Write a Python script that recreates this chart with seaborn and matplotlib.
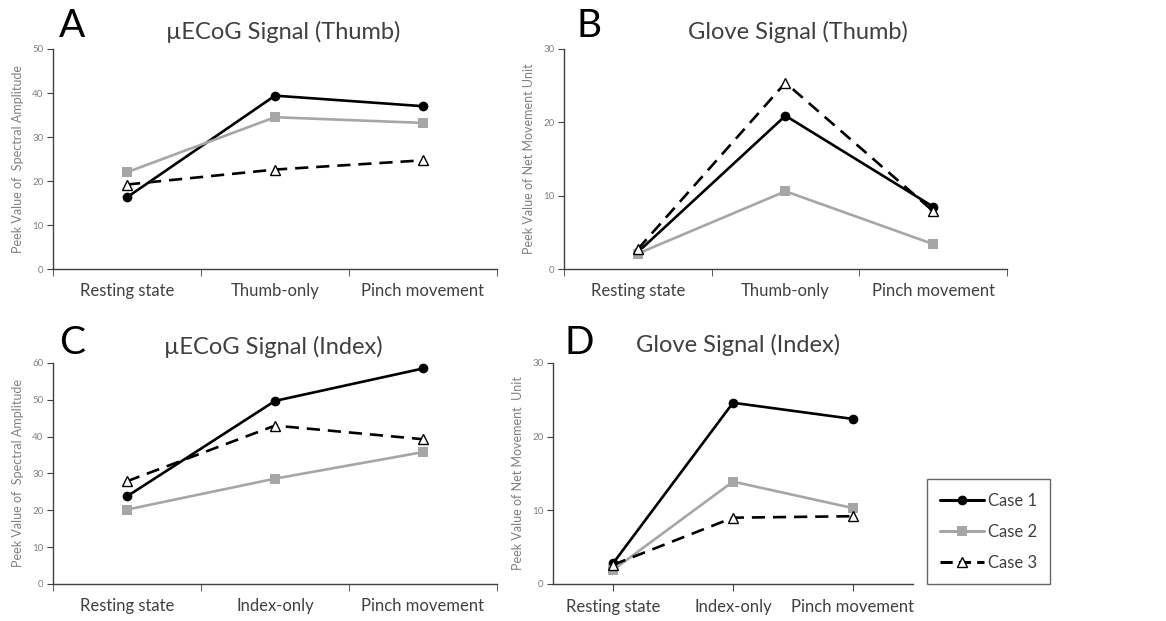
import pandas as pd
import numpy as np
import seaborn as sns
import matplotlib.pyplot as plt
from matplotlib.lines import Line2D
from matplotlib.ticker import FixedLocator

cases = ["Case 1", "Case 2", "Case 3"]

thumb_cats = ["Resting state", "Thumb-only", "Pinch movement"]
index_cats = ["Resting state", "Index-only", "Pinch movement"]

ecog_thumb_case1 = [16.3, 39.4, 37.0]
ecog_thumb_case2 = [22.0, 34.5, 33.2]
ecog_thumb_case3 = [19.2, 22.6, 24.7]

glove_thumb_case1 = [2.3, 20.9, 8.5]
glove_thumb_case2 = [2.1, 10.6, 3.4]
glove_thumb_case3 = [2.7, 25.4, 7.9]

ecog_index_case1 = [23.8, 49.7, 58.5]
ecog_index_case2 = [20.2, 28.6, 35.8]
ecog_index_case3 = [27.9, 43.0, 39.3]

glove_index_case1 = [2.8, 24.6, 22.4]
glove_index_case2 = [1.9, 13.9, 10.3]
glove_index_case3 = [2.6, 9.0, 9.2]

palette = {"Case 1": "black", "Case 2": "#a6a6a6", "Case 3": "black"}
markers = {"Case 1": "o", "Case 2": "s", "Case 3": "^"}
dashes = {"Case 1": "", "Case 2": "", "Case 3": (5, 3)}

sns.set_style("white")
plt.rcParams["font.family"] = ["Lato", "DejaVu Sans"]


def make_df(cats, v1, v2, v3):
    rows = []
    for case, vals in zip(cases, [v1, v2, v3]):
        for c, v in zip(cats, vals):
            rows.append({"cond": c, "value": v, "case": case})
    return pd.DataFrame(rows)


fig = plt.figure(figsize=(11.66, 6.21), dpi=100)

panels = [
    # rect, cats, data, ymax, ystep, ylabel, letter, title, letter_xy, title_xy, between
    ([0.0455, 0.5668, 0.3807, 0.3543], thumb_cats,
     (ecog_thumb_case1, ecog_thumb_case2, ecog_thumb_case3), 50, 10,
     "Peek Value of  Spectral Amplitude", "A", "\u00b5ECoG Signal (Thumb)",
     (72, 26), (283, 32), True),
    ([0.4837, 0.5668, 0.3799, 0.3543], thumb_cats,
     (glove_thumb_case1, glove_thumb_case2, glove_thumb_case3), 30, 10,
     "Peek Value of Net Movement Unit", "B", "Glove Signal (Thumb)",
     (589, 26), (798, 32), True),
    ([0.0455, 0.0596, 0.3807, 0.3559], index_cats,
     (ecog_index_case1, ecog_index_case2, ecog_index_case3), 60, 10,
     "Peek Value of  Spectral Amplitude", "C", "\u00b5ECoG Signal (Index)",
     (72, 343), (273, 347), True),
    ([0.4743, 0.0596, 0.3087, 0.3559], index_cats,
     (glove_index_case1, glove_index_case2, glove_index_case3), 30, 10,
     "Peek Value of Net Movement  Unit", "D", "Glove Signal (Index)",
     (579, 343), (738, 345), False),
]

W, H = 1166, 621
for rect, cats, vals, ymax, ystep, ylab, letter, title, lxy, txy, between in panels:
    ax = fig.add_axes(rect)
    df = make_df(cats, *vals)
    sns.lineplot(data=df, x="cond", y="value", hue="case", style="case",
                 palette=palette, markers=markers, dashes=dashes,
                 linewidth=1.9, markersize=7, ax=ax, legend=False, sort=False)
    # white fill for triangles
    for line in ax.lines:
        if line.get_marker() == "^":
            line.set_markerfacecolor("white")
            line.set_markeredgecolor("black")
            line.set_markeredgewidth(1.0)
        else:
            line.set_markeredgewidth(0)
    ax.set_xlim(-0.5, 2.5)
    ax.set_ylim(0, ymax)
    ax.set_yticks(np.arange(0, ymax + 1, ystep))
    ax.set_xticks(range(3))
    ax.set_xticklabels(cats, fontsize=12, color="#404040")
    if between:
        ax.tick_params(axis="x", which="major", length=0, pad=10)
        ax.xaxis.set_minor_locator(FixedLocator([-0.5, 0.5, 1.5, 2.5]))
        ax.tick_params(axis="x", which="minor", length=5, color="#404040",
                       direction="out", bottom=True)
    else:
        ax.tick_params(axis="x", which="major", length=5, color="#404040",
                       direction="out", bottom=True, pad=6)
    ax.tick_params(axis="y", length=4, color="#404040", direction="out",
                   left=True, labelsize=7, labelcolor="#808080", pad=3)
    ax.set_xlabel("")
    ax.set_ylabel(ylab, fontsize=9, color="#808080", labelpad=6)
    for s in ["top", "right"]:
        ax.spines[s].set_visible(False)
    for s in ["left", "bottom"]:
        ax.spines[s].set_color("#404040")
        ax.spines[s].set_linewidth(1.0)
    fig.text(lxy[0] / W, 1 - lxy[1] / H, letter, fontsize=28, color="black",
             ha="center", va="center")
    fig.text(txy[0] / W, 1 - txy[1] / H, title, fontsize=17, color="#404040",
             ha="center", va="center")

handles = [
    Line2D([], [], color="black", lw=2.2, marker="o", markersize=7,
           markeredgewidth=0),
    Line2D([], [], color="#a6a6a6", lw=2.2, marker="s", markersize=7,
           markeredgewidth=0),
    Line2D([], [], color="black", lw=2.2, ls=(0, (4, 2)), marker="^",
           markersize=7, markerfacecolor="white", markeredgecolor="black",
           markeredgewidth=1.0),
]
leg = fig.legend(handles, cases, loc="lower left",
                 bbox_to_anchor=(0.795, 0.0596), borderaxespad=0,
                 frameon=True, fancybox=False, fontsize=12, labelcolor="#404040",
                 handlelength=2.6, borderpad=0.8, labelspacing=0.9,
                 handletextpad=0.25)
leg.get_frame().set_edgecolor("#404040")
leg.get_frame().set_linewidth(1.0)

fig.savefig("out.png", dpi=100)
